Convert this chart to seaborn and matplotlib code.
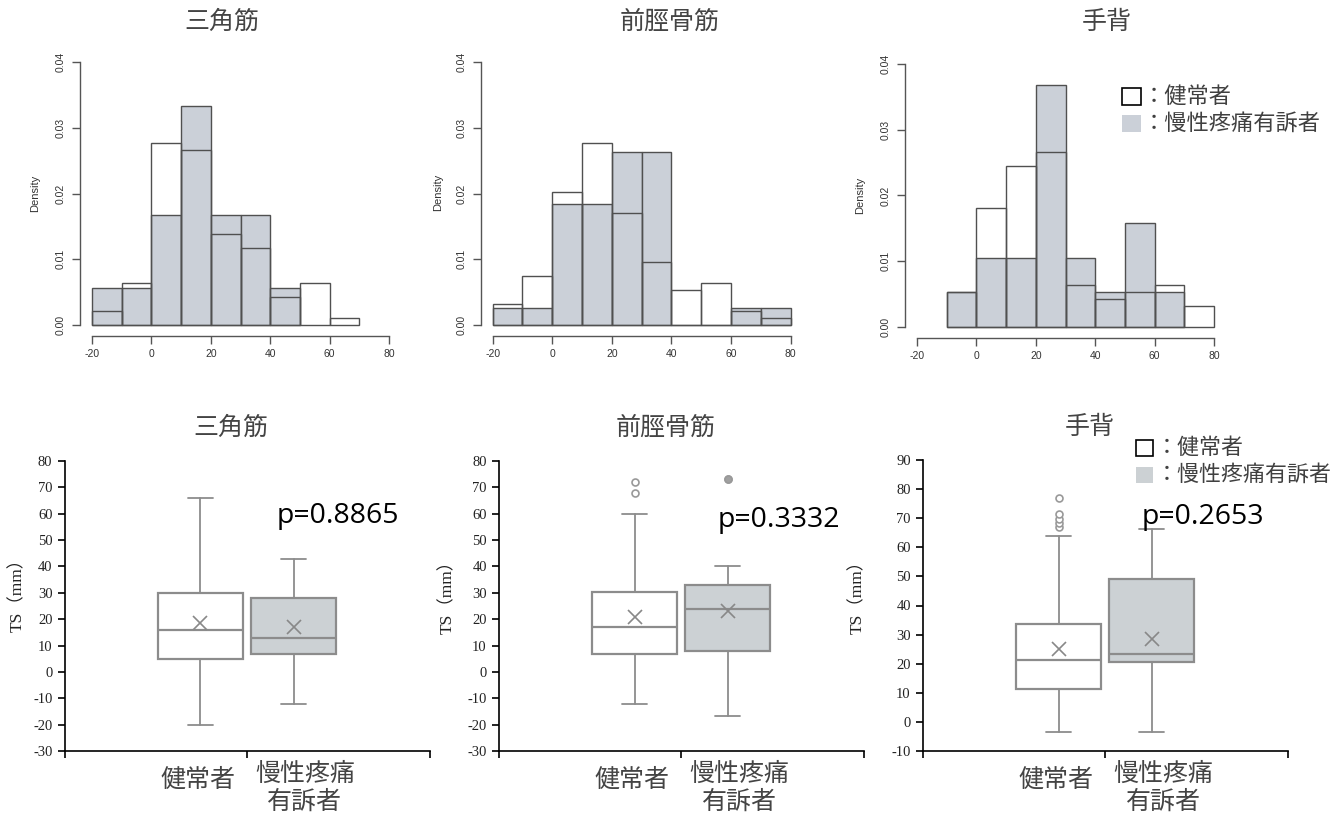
import numpy as np
import pandas as pd
import seaborn as sns
import matplotlib.pyplot as plt
from matplotlib.patches import Rectangle

W, H = 1342, 818

muscles = ['三角筋', '前脛骨筋', '手背']
groups = ['健常者', '慢性疼痛有訴者']
group_ticks = ['健常者', '慢性疼痛\n有訴者']

# histogram densities, bin width 10
healthy_start = [-20, -20, -10]
healthy_density = [
    [0.0021, 0.0064, 0.0277, 0.0266, 0.0139, 0.0117, 0.0043, 0.0064, 0.0011],
    [0.0032, 0.0074, 0.0202, 0.0277, 0.0170, 0.0096, 0.0053, 0.0064, 0.0021, 0.0011],
    [0.0053, 0.0181, 0.0245, 0.0266, 0.0064, 0.0043, 0.0053, 0.0064, 0.0032],
]
pain_start = [-20, -20, -10]
pain_density = [
    [0.0056, 0.0056, 0.0167, 0.0333, 0.0167, 0.0167, 0.0056],
    [0.0026, 0.0026, 0.0184, 0.0184, 0.0263, 0.0263, 0.0, 0.0, 0.0026, 0.0026],
    [0.0053, 0.0105, 0.0105, 0.0368, 0.0105, 0.0053, 0.0158, 0.0053],
]

# box stats: whislo, q1, med, q3, whishi, mean, outliers
box_healthy = [
    [-20, 5, 16, 30, 66, 18.4, []],
    [-12, 6.9, 17, 30.2, 60, 20.7, [68, 72]],
    [-3.7, 11.1, 21.2, 33.5, 64.1, 24.9, [67.1, 68.5, 69.9, 71.4, 77]],
]
box_pain = [
    [-12, 6.9, 13, 28.2, 42.8, 17.2, []],
    [-16.7, 8, 23.9, 33.1, 40.2, 23.2, [73, 73]],
    [-3.7, 20.4, 23.2, 49.1, 66.2, 28.6, []],
]
p_values = ['p=0.8865', 'p=0.3332', 'p=0.2653']
box_yticks = [np.arange(-30, 81, 10), np.arange(-30, 81, 10), np.arange(-10, 91, 10)]

GREY_HIST = '#cbd0d8'
GREY_BOX = '#ccd1d4'
BOX_EDGE = '#8c8c8c'
TXT = '#444444'

sns.set_theme(style='white')
plt.rcParams['font.family'] = ['Noto Sans CJK JP', 'DejaVu Sans']
plt.rcParams['axes.unicode_minus'] = False
fig = plt.figure(figsize=(W / 100, H / 100), dpi=100)
fig.patch.set_facecolor('white')


def px_axes(left, top, right, bottom):
    return fig.add_axes([left / W, 1 - bottom / H, (right - left) / W, (bottom - top) / H])


def ftext(x, y, s, **kw):
    return fig.text(x / W, 1 - y / H, s, **kw)


def frect(x0, y0, x1, y1, **kw):
    fig.add_artist(Rectangle((x0 / W, 1 - y1 / H), (x1 - x0) / W, (y1 - y0) / H,
                             transform=fig.transFigure, **kw))


def binned(start, dens):
    mids = start + 5 + 10 * np.arange(len(dens))
    rng = (start, start + 10 * len(dens))
    return rng, pd.DataFrame({'mid': mids, 'density': dens})


# ---- top row: histograms ----
hist_boxes = [(80, 51.5, 401, 335.5), (480.7, 51.5, 802.5, 335.5), (905, 53.5, 1226, 337.5)]
density_xy = [(35, 193.5), (437.7, 192.7), (860, 195.7)]
hist_title_x = [222, 670, 1107]

for i, box in enumerate(hist_boxes):
    ax = px_axes(*box)
    r_p, d_p = binned(pain_start[i], pain_density[i])
    sns.histplot(data=d_p, x='mid', weights='density', binwidth=10, binrange=r_p,
                 stat='count', color=GREY_HIST, alpha=1, edgecolor='#505050',
                 linewidth=1, ax=ax)
    r_h, d_h = binned(healthy_start[i], healthy_density[i])
    sns.histplot(data=d_h, x='mid', weights='density', binwidth=10, binrange=r_h,
                 stat='count', fill=False, color='#505050', linewidth=1, ax=ax)
    ax.set_xlabel('')
    ax.set_ylabel('')
    ax.set_xlim(-24, 84)
    ax.set_ylim(-0.0016, 0.0416)
    ax.set_xticks(np.arange(-20, 81, 20))
    ax.set_yticks(np.arange(0, 0.041, 0.01))
    ax.set_yticklabels(['0.00', '0.01', '0.02', '0.03', '0.04'], rotation=90, va='center')
    for s in ['top', 'right']:
        ax.spines[s].set_visible(False)
    ax.spines['left'].set_bounds(0, 0.04)
    ax.spines['bottom'].set_bounds(-20, 80)
    for s in ['left', 'bottom']:
        ax.spines[s].set_color('#555555')
        ax.spines[s].set_linewidth(1)
    ax.tick_params(length=6, width=1, color='#555555', labelsize=7.5, labelcolor='#333333',
                   pad=4, left=True, bottom=True)
    for lbl in ax.get_xticklabels() + ax.get_yticklabels():
        lbl.set_fontfamily('Liberation Sans')
    ax.patch.set_alpha(0)
    ftext(*density_xy[i], 'Density', rotation=90, fontsize=8, family='Liberation Sans',
          ha='center', va='center', color='#333333')
    ftext(hist_title_x[i], 22, muscles[i], fontsize=18, ha='center', va='center', color=TXT)

# legend of the histograms
frect(1122, 88.5, 1141, 105, facecolor='white', edgecolor='black', linewidth=1.2)
frect(1122, 115, 1141, 131.5, facecolor=GREY_HIST, edgecolor='none')
ftext(1143, 96.7, '：' + groups[0], fontsize=16, va='center', color='#404040')
ftext(1143, 123.5, '：' + groups[1], fontsize=16, va='center', color='#404040')

# ---- bottom row: box plots ----
box_boxes = [(65, 461, 430, 751), (499.3, 461, 864, 751), (923.3, 460.3, 1288, 750.7)]
box_title = [(230.7, 428), (666, 428), (1090, 427)]
ts_xy = [(17.5, 591), (448, 593), (857.5, 593)]
p_pos = [(277, 523.3), (717.3, 526.7), (1141.7, 524)]
XL = (-1.45, 2.46)

for i, box in enumerate(box_boxes):
    ax = px_axes(*box)
    for pos, st, fill in [(0, box_healthy[i], 'white'), (1, box_pain[i], GREY_BOX)]:
        stats = [dict(whislo=st[0], q1=st[1], med=st[2], q3=st[3], whishi=st[4],
                      mean=st[5], fliers=st[6])]
        ax.bxp(stats, positions=[pos], widths=0.91, patch_artist=True, showmeans=True,
               manage_ticks=False, capwidths=0.27,
               boxprops=dict(facecolor=fill, edgecolor=BOX_EDGE, linewidth=1.6),
               whiskerprops=dict(color=BOX_EDGE, linewidth=1.3),
               capprops=dict(color=BOX_EDGE, linewidth=1.3),
               medianprops=dict(color=BOX_EDGE, linewidth=1.6),
               meanprops=dict(marker='x', markeredgecolor='#888888', markersize=10,
                              markeredgewidth=1.2),
               flierprops=dict(marker='o', markerfacecolor='white' if pos == 0 else '#a0a0a0',
                               markeredgecolor='#999999', markersize=5, markeredgewidth=1.2))
    yt = box_yticks[i]
    ax.set_ylim(yt[0], yt[-1])
    ax.set_xlim(*XL)
    ax.set_yticks(yt)
    ax.set_yticklabels([str(v) for v in yt])
    ax.set_xticks([XL[0], 0.5, XL[1]])
    ax.set_xticklabels(['', '', ''])
    for s in ['top', 'right']:
        ax.spines[s].set_visible(False)
    for s in ['left', 'bottom']:
        ax.spines[s].set_color('black')
        ax.spines[s].set_linewidth(1.2)
    ax.tick_params(length=5, width=1.2, color='black', labelsize=10.5, labelcolor='#222222',
                   pad=4, left=True, bottom=True, direction='out')
    for lbl in ax.get_yticklabels():
        lbl.set_fontfamily('Liberation Serif')
    ax.patch.set_alpha(0)
    ax.text(-0.03, -0.10, group_ticks[0], transform=ax.get_xaxis_transform(),
            fontsize=18, ha='center', va='center', color=TXT)
    ax.text(1.12, -0.128, group_ticks[1], transform=ax.get_xaxis_transform(),
            fontsize=18, ha='center', va='center', color=TXT, linespacing=1.1)
    ftext(*box_title[i], muscles[i], fontsize=18, ha='center', va='center', color=TXT)
    ftext(*ts_xy[i], 'TS（mm）', rotation=90, fontsize=12.5,
          family=['Liberation Serif', 'Noto Sans CJK JP'], ha='center', va='center', color='#222222')
    ftext(*p_pos[i], p_values[i], fontsize=20.5, family='Open Sans', ha='left',
          va='baseline', color='black')

# legend of the box plots
frect(1136, 440, 1152.7, 455.7, facecolor='white', edgecolor='black', linewidth=1.2)
frect(1136, 466.7, 1152.7, 482.7, facecolor=GREY_BOX, edgecolor='none')
ftext(1156, 447.7, '：' + groups[0], fontsize=15.8, va='center', color='#404040')
ftext(1156, 475, '：' + groups[1], fontsize=15.8, va='center', color='#404040')

fig.savefig('out.png', dpi=100, facecolor='white')
